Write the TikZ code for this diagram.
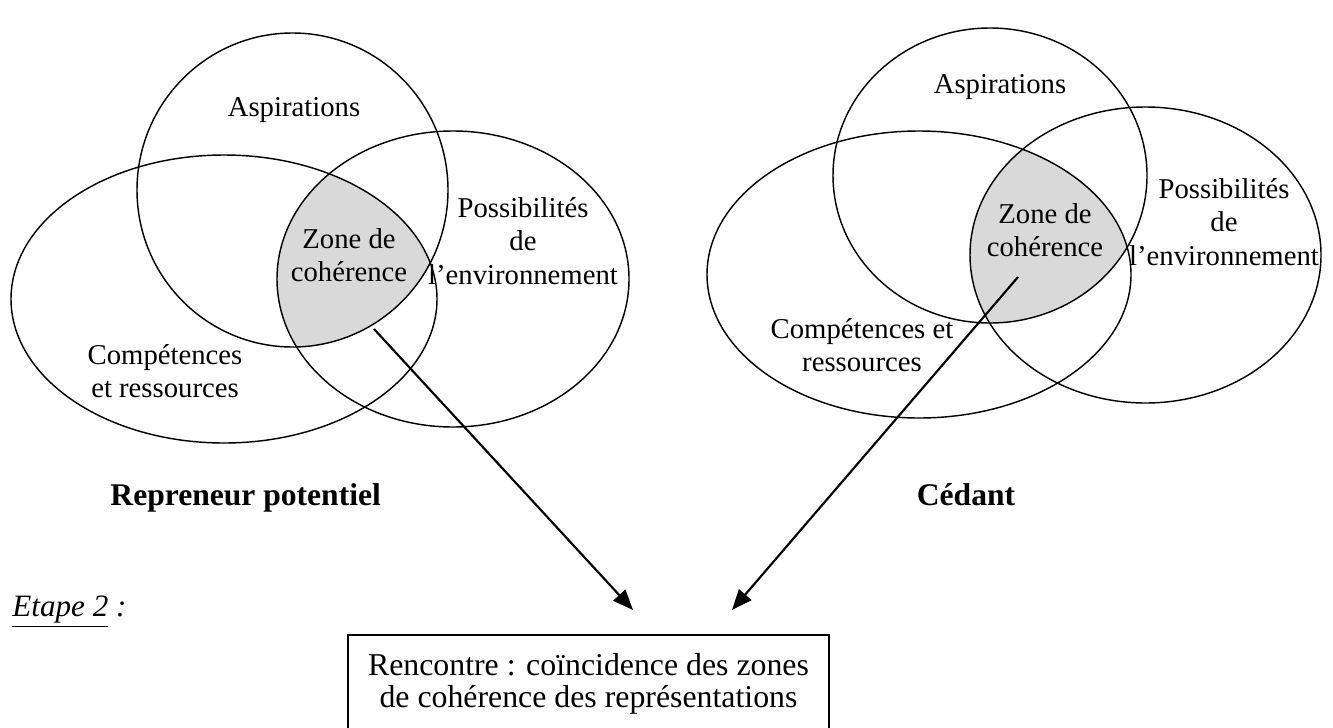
\documentclass[tikz,border=0pt]{standalone}
\usepackage{fontspec}
\setmainfont{Liberation Serif}
\usetikzlibrary{arrows.meta}
\begin{document}
\begin{tikzpicture}[x=0.418pt,y=-0.418pt,
  lbl/.style={font=\fontsize{12}{14}\selectfont, align=center, inner sep=0pt},
  ttl/.style={font=\fontsize{13.2}{15}\selectfont\bfseries, inner sep=0pt},
  steplbl/.style={font=\fontsize{13}{15}\selectfont, inner sep=0pt},
  setline/.style={line width=0.6pt},
  zone/.style={fill=black!15},
  link/.style={line width=0.9pt, -{Triangle[length=8.5pt,width=6.8pt]}},
  result/.style={draw, line width=0.6pt, font=\fontsize{13.3}{13.2}\selectfont, align=center,
    minimum width=201pt, minimum height=41pt, inner sep=0pt}]
\useasboundingbox (0,0) rectangle (1333,727);
\clip (0,0) rectangle (1333,727);

% ---- left: repreneur potentiel ----
\begin{scope}
  \clip (292.5,190) ellipse [x radius=155.5, y radius=157];
  \clip (224,299) ellipse [x radius=213, y radius=144];
  \fill[zone] (453,279) ellipse [x radius=176, y radius=148];
\end{scope}
\draw[setline] (292.5,190) ellipse [x radius=155.5, y radius=157];
\draw[setline] (224,299) ellipse [x radius=213, y radius=144];
\draw[setline] (453,279) ellipse [x radius=176, y radius=148];

\node[lbl] (aspL) at (294,110) {Aspirations};
\node[lbl] (zoneTL) at (349,255) {Zone de\\cohérence};
\node[lbl] (possL) at (523,241) {Possibilités\\de\\l’environnement};
\node[lbl] (compL) at (165,371) {Compétences\\et ressources};
\node[ttl, anchor=west] (titleL) at (110,498) {Repreneur potentiel};

% ---- right: cedant ----
\begin{scope}
  \clip (990,175.5) ellipse [x radius=157, y radius=147.5];
  \clip (919,274.5) ellipse [x radius=212, y radius=143.5];
  \fill[zone] (1145.5,255) ellipse [x radius=175.5, y radius=148];
\end{scope}
\draw[setline] (990,175.5) ellipse [x radius=157, y radius=147.5];
\draw[setline] (919,274.5) ellipse [x radius=212, y radius=143.5];
\draw[setline] (1145.5,255) ellipse [x radius=175.5, y radius=148];

\node[lbl] (aspR) at (1000,87) {Aspirations};
\node[lbl] (zoneTR) at (1045,230) {Zone de\\cohérence};
\node[lbl] (possR) at (1224,222) {Possibilités\\de\\l’environnement};
\node[lbl] (compR) at (862,345) {Compétences et\\ressources};
\node[ttl] (titleR) at (966,495) {Cédant};

% ---- step 2 ----
\node[steplbl, anchor=west] (etape) at (12,612) {\underline{\textit{Etape 2}}\textit{ :}};
\node[result] (meet) at (588.5,684) {Rencontre : coïncidence des zones\\de cohérence des représentations};

\coordinate (startL) at (374,329);
\coordinate (tipL) at (633,610);
\coordinate (startR) at (1018,277);
\coordinate (tipR) at (732,610);
\draw[link] (startL) -- (tipL);
\draw[link] (startR) -- (tipR);
\end{tikzpicture}
\end{document}
